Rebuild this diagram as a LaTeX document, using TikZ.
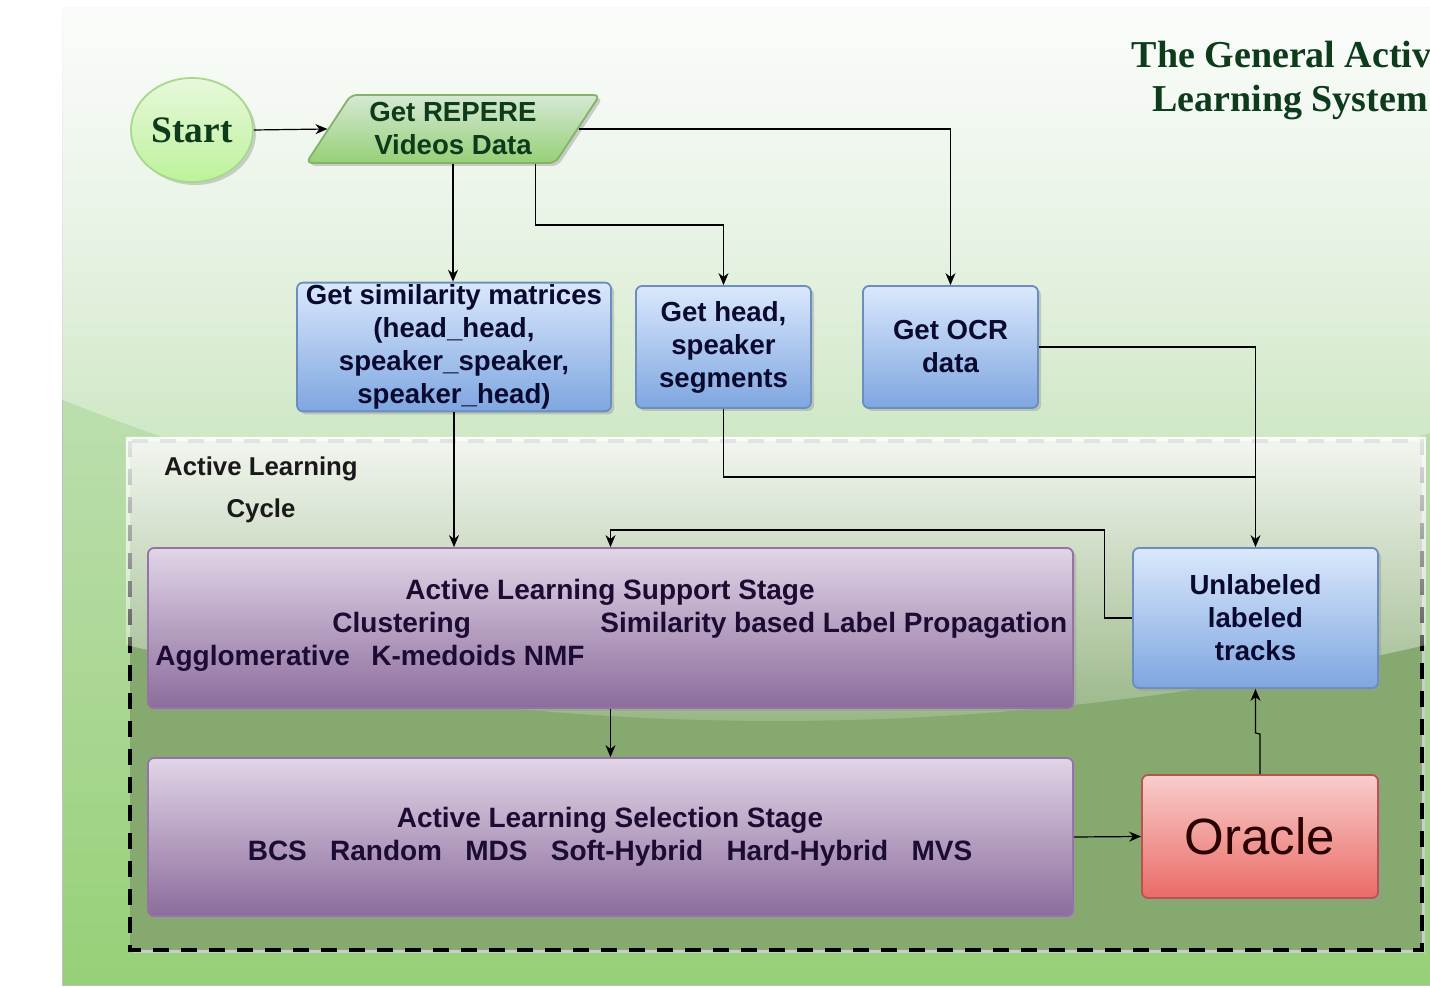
\documentclass[tikz,border=0pt]{standalone}
\usepackage{fontspec}
\setmainfont{Liberation Sans}
\newfontfamily\serifbf{Liberation Serif}
\usetikzlibrary{shapes.geometric,arrows.meta,shadows,fadings,calc}
\tikzfading[name=glassfade, top color=transparent!10, bottom color=transparent!90]
\definecolor{paneltop}{HTML}{D5E8D4}
\definecolor{panelbot}{HTML}{97D077}
\definecolor{innerfill}{HTML}{86A970}
\definecolor{starttop}{HTML}{E8F8DC}
\definecolor{startbot}{HTML}{BDF29B}
\definecolor{startbrd}{HTML}{A6D98C}
\definecolor{gtop}{HTML}{D5E8D4}
\definecolor{gbot}{HTML}{97D077}
\definecolor{gbrd}{HTML}{82B366}
\definecolor{btop}{HTML}{DAE8FC}
\definecolor{bbot}{HTML}{7EA6E0}
\definecolor{bbrd}{HTML}{6C8EBF}
\definecolor{ptop}{HTML}{E1D5E7}
\definecolor{pbot}{HTML}{8C6C9C}
\definecolor{pbrd}{HTML}{9673A6}
\definecolor{rtop}{HTML}{F8CECC}
\definecolor{rbot}{HTML}{EA6B66}
\definecolor{rbrd}{HTML}{B85450}
\definecolor{greentext}{HTML}{0E3B1B}
\definecolor{bluetext}{HTML}{0A0A30}
\definecolor{purtext}{HTML}{1C0B33}
\definecolor{redtext}{HTML}{2B0000}
\newcommand\bxfont{\fontsize{13.8}{16.5}\selectfont\bfseries}
\tikzset{
  shad/.style={drop shadow={shadow xshift=1.5pt, shadow yshift=-1.5pt, fill=black!40, opacity=0.45}},
  box/.style={shad, rounded corners=3pt, line width=0.9pt, inner sep=1pt, align=center, font=\bxfont},
  bluebox/.style={box, draw=bbrd, top color=btop, bottom color=bbot, text=bluetext},
  purbox/.style={box, draw=pbrd, top color=ptop, bottom color=pbot, text=purtext},
  redbox/.style={box, draw=rbrd, top color=rtop, bottom color=rbot, text=redtext},
  databox/.style={shad, trapezium, trapezium left angle=56.5, trapezium right angle=123.5,
    trapezium stretches=true, rounded corners=3pt, line width=0.9pt, draw=gbrd,
    top color=gtop, bottom color=gbot, text=greentext, align=center, font=\bxfont, inner sep=1pt},
  startnode/.style={shad, ellipse, draw=startbrd, line width=0.9pt, top color=starttop, bottom color=startbot,
    text=greentext, font=\serifbf\fontsize{18.7}{22}\selectfont\bfseries},
  ptext/.style={font=\fontsize{14}{16.5}\selectfont\bfseries, text=purtext, inner sep=0pt},
  arr/.style={-{Stealth[length=6pt,width=5pt]}, line width=0.6pt},
  conn/.style={line width=0.6pt},
}
\begin{document}
\begin{tikzpicture}[x=0.5pt, y=-0.5pt]
\useasboundingbox (0,0) rectangle (1430,988);
\clip (0,0) rectangle (1430,988);
\fill[white] (0,0) rectangle (1430,988);
% outer panel
\shade[top color=paneltop, bottom color=panelbot] (62,8) rectangle (1520,985);
\draw[black!25, line width=0.5pt] (62,8) rectangle (1520,985);
\fill[white, path fading=glassfade] (61,7) -- (61,399) .. controls (548,594.3) and (1034,594.3) .. (1520,399) -- (1520,7) -- cycle;
% inner cycle box
\fill[black!20] (133,444) rectangle (1425,953);
\fill[innerfill] (130,441) rectangle (1422,950);
\draw[black, line width=2.2pt, dash pattern=on 8pt off 6pt] (130,441) rectangle (1422,950);
\fill[white, path fading=glassfade] (126,437) -- (126,645) .. controls (560.7,746.3) and (991.3,746.3) .. (1426,645) -- (1426,437) -- cycle;
% title
\node[font=\serifbf\fontsize{19}{22}\selectfont\bfseries, text=greentext, anchor=base, inner sep=0pt] (title1) at (1290,68) {The General Active};
\node[font=\serifbf\fontsize{19}{22}\selectfont\bfseries, text=greentext, anchor=base, inner sep=0pt] (title2) at (1290,112) {Learning System};
% nodes
\node[startnode, minimum width=61pt, minimum height=52pt, inner sep=0pt] (start) at (192,130) {Start};
\node[databox, minimum width=147pt, minimum height=34pt] (data) at (453,129) {Get REPERE\\Videos Data};
\node[bluebox, minimum width=157pt, minimum height=61pt] (sim) at (454,347) {Get similarity matrices\\(head\_head,\\speaker\_speaker,\\speaker\_head)};
\node[bluebox, minimum width=87.5pt, minimum height=61pt] (head) at (723.5,347) {Get head,\\speaker\\segments};
\node[bluebox, minimum width=87.5pt, minimum height=61pt] (ocr) at (950.5,347) {Get OCR\\data};
\node[font=\fontsize{12.9}{21}\selectfont\bfseries, text=black!90, align=center, inner sep=0pt] (cyc) at (261,490) {Active Learning\\Cycle};
\node[purbox, minimum width=462.5pt, minimum height=80pt] (sup) at (610.5,628) {};
\node[purbox, minimum width=462.5pt, minimum height=79pt] (sel) at (610.5,837) {};
\node[bluebox, minimum width=122.5pt, minimum height=70pt] (unl) at (1255.5,618) {Unlabeled\\labeled\\tracks};
\node[redbox, minimum width=118pt, minimum height=61.5pt, font=\fontsize{25.5}{30}\selectfont] (ora) at (1260,836.5) {Oracle};
% texts in stage boxes
\node[ptext, anchor=base] (s1) at (610,600) {Active Learning Support Stage};
\node[ptext, anchor=base west] (s2) at (332,633) {Clustering};
\node[ptext, anchor=base west] (s3) at (600,633) {Similarity based Label Propagation};
\node[ptext, anchor=base west] (s4) at (155,666) {Agglomerative};
\node[ptext, anchor=base west] (s5) at (371,666) {K-medoids NMF};
\node[ptext, anchor=base] (t1) at (610,827) {Active Learning Selection Stage};
\node[ptext, anchor=base] (t2) at (610,860) {BCS\hspace{0.83em}Random\hspace{0.83em}MDS\hspace{0.83em}Soft-Hybrid\hspace{0.83em}Hard-Hybrid\hspace{0.83em}MVS};
% connectors
\draw[arr] (start.east) -- (data.west);
\draw[arr] (data.south) -- (data.south |- sim.north);
\draw[arr] ($(data.bottom right corner)+(-20,0)$) |- ($(head.north)+(0,-60)$) -- (head.north);
\draw[arr] (data.east) -| (ocr.north);
\draw[arr] (sim.south) -- (sim.south |- sup.north);
\draw[conn] (head.south) |- ($(unl.north)+(0,-70)$);
\draw[arr] (ocr.east) -| (unl.north);
\draw[arr] (unl.west) -- ++(-28,0) |- ($(sup.north)+(0,-17)$) -- (sup.north);
\draw[arr] (sup.south) -- (sel.north);
\draw[arr] (sel.east) -- (ora.west);
\draw[arr] (ora.north) -- ++(0,-40) -- ($(unl.south)+(0,44)$) -- (unl.south);
\end{tikzpicture}
\end{document}
